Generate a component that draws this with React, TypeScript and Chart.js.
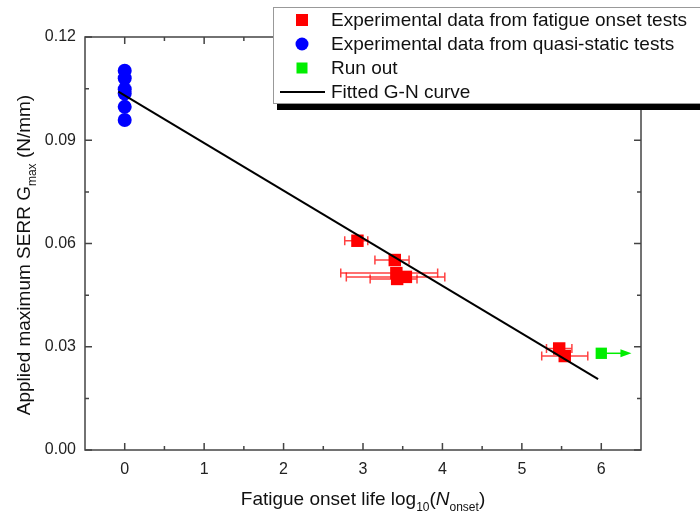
import React, { useEffect, useRef } from "react";
import { Chart, registerables } from "chart.js";

Chart.register(...registerables);

// ---- data ----
const quasiX = [0, 0, 0, 0, 0, 0];
const quasiY = [0.1102, 0.108, 0.1048, 0.1036, 0.0997, 0.0959];

const fatigueX = [2.93, 3.4, 3.42, 3.54, 3.43, 5.47, 5.54];
const fatigueY = [0.0608, 0.0552, 0.0514, 0.0503, 0.0497, 0.0295, 0.0273];
const fatigueXLow = [2.77, 3.15, 2.72, 2.79, 3.09, 5.31, 5.25];
const fatigueXHigh = [3.06, 3.58, 3.94, 4.03, 3.68, 5.63, 5.83];

const runOutX = [6.0];
const runOutY = [0.0281];
const runOutArrowTo = [6.38];

const fitX = [-0.08, 5.96];
const fitY = [0.1041, 0.0206];

const xTicks = [0, 1, 2, 3, 4, 5, 6];
const xMinorTicks = [0.5, 1.5, 2.5, 3.5, 4.5, 5.5];
const yTicks = [0, 0.03, 0.06, 0.09, 0.12];
const yMinorTicks = [0.015, 0.045, 0.075, 0.105];

const legendLabels = [
  "Experimental data from fatigue onset tests",
  "Experimental data from quasi-static tests",
  "Run out",
  "Fitted G-N curve",
];

const FONT = "'Liberation Sans', Arial, sans-serif";
const RED = "#ff0000";
const BLUE = "#0000ff";
const GREEN = "#00ee00";

type Part = { t: string; size: number; sub?: boolean; italic?: boolean };

function drawRich(ctx: CanvasRenderingContext2D, parts: Part[], cx: number, baseY: number, mainSize: number) {
  let total = 0;
  for (const p of parts) {
    ctx.font = `${p.italic ? "italic " : ""}${p.size}px ${FONT}`;
    total += ctx.measureText(p.t).width;
  }
  let x = cx - total / 2;
  ctx.textAlign = "left";
  ctx.textBaseline = "alphabetic";
  for (const p of parts) {
    ctx.font = `${p.italic ? "italic " : ""}${p.size}px ${FONT}`;
    ctx.fillText(p.t, x, baseY + (p.sub ? mainSize * 0.3 : 0));
    x += ctx.measureText(p.t).width;
  }
}

const decorPlugin = {
  id: "decor",
  beforeDatasetsDraw(chart: any) {
    const { ctx, scales } = chart;
    const xs = scales.x;
    const ys = scales.y;
    ctx.save();
    ctx.strokeStyle = "rgba(255,0,0,0.75)";
    ctx.lineWidth = 1.5;
    for (let i = 0; i < fatigueX.length; i++) {
      const y = ys.getPixelForValue(fatigueY[i]);
      const x1 = xs.getPixelForValue(fatigueXLow[i]);
      const x2 = xs.getPixelForValue(fatigueXHigh[i]);
      ctx.beginPath();
      ctx.moveTo(x1, y);
      ctx.lineTo(x2, y);
      ctx.moveTo(x1, y - 4.5);
      ctx.lineTo(x1, y + 4.5);
      ctx.moveTo(x2, y - 4.5);
      ctx.lineTo(x2, y + 4.5);
      ctx.stroke();
    }
    ctx.restore();
  },
  afterDatasetsDraw(chart: any) {
    const { ctx, scales } = chart;
    const xs = scales.x;
    const ys = scales.y;
    ctx.save();
    ctx.strokeStyle = GREEN;
    ctx.fillStyle = GREEN;
    ctx.lineWidth = 1.5;
    for (let i = 0; i < runOutX.length; i++) {
      const y = ys.getPixelForValue(runOutY[i]);
      const x1 = xs.getPixelForValue(runOutX[i]);
      const x2 = xs.getPixelForValue(runOutArrowTo[i]);
      ctx.beginPath();
      ctx.moveTo(x1, y);
      ctx.lineTo(x2 - 8, y);
      ctx.stroke();
      ctx.beginPath();
      ctx.moveTo(x2, y);
      ctx.lineTo(x2 - 11, y - 4);
      ctx.lineTo(x2 - 11, y + 4);
      ctx.closePath();
      ctx.fill();
    }
    ctx.restore();
  },
  afterDraw(chart: any) {
    const { ctx, scales, chartArea } = chart;
    const xs = scales.x;
    const ys = scales.y;
    const { left, right, top, bottom } = chartArea;
    ctx.save();
    // frame
    ctx.strokeStyle = "#444";
    ctx.lineWidth = 1.5;
    ctx.strokeRect(left, top, right - left, bottom - top);
    // ticks (inward)
    ctx.beginPath();
    const tick = (v: number, len: number) => {
      const x = xs.getPixelForValue(v);
      ctx.moveTo(x, bottom);
      ctx.lineTo(x, bottom - len);
      ctx.moveTo(x, top);
      ctx.lineTo(x, top + len);
    };
    xTicks.forEach((v) => tick(v, 7));
    xMinorTicks.forEach((v) => tick(v, 4));
    const ytick = (v: number, len: number) => {
      const y = ys.getPixelForValue(v);
      ctx.moveTo(left, y);
      ctx.lineTo(left + len, y);
      ctx.moveTo(right, y);
      ctx.lineTo(right - len, y);
    };
    yTicks.forEach((v) => ytick(v, 7));
    yMinorTicks.forEach((v) => ytick(v, 4));
    ctx.stroke();

    // axis titles
    ctx.fillStyle = "#111";
    drawRich(
      ctx,
      [
        { t: "Fatigue onset life log", size: 19 },
        { t: "10", size: 12, sub: true },
        { t: "(", size: 19 },
        { t: "N", size: 19, italic: true },
        { t: "onset", size: 12, sub: true },
        { t: ")", size: 19 },
      ],
      (left + right) / 2,
      505,
      19
    );
    ctx.save();
    ctx.translate(30, 255);
    ctx.rotate(-Math.PI / 2);
    drawRich(
      ctx,
      [
        { t: "Applied maximum SERR G", size: 19 },
        { t: "max", size: 12, sub: true },
        { t: " (N/mm)", size: 19 },
      ],
      0,
      0,
      19
    );
    ctx.restore();

    // legend
    const lx = 273;
    const ly = 7;
    const lw = 440;
    const lh = 96;
    ctx.fillStyle = "#000";
    ctx.fillRect(lx + 4, ly + lh + 1, lw, 6);
    ctx.fillStyle = "#fff";
    ctx.fillRect(lx, ly, lw, lh);
    ctx.strokeStyle = "#999";
    ctx.lineWidth = 1;
    ctx.strokeRect(lx + 0.5, ly + 0.5, lw, lh);
    const rows = [20, 44, 68, 92];
    const mx = 302;
    // markers
    ctx.fillStyle = RED;
    ctx.fillRect(mx - 6, rows[0] - 6, 12, 12);
    ctx.fillStyle = BLUE;
    ctx.beginPath();
    ctx.arc(mx, rows[1], 6.5, 0, Math.PI * 2);
    ctx.fill();
    ctx.fillStyle = GREEN;
    ctx.fillRect(mx - 5.5, rows[2] - 5.5, 11, 11);
    ctx.strokeStyle = "#000";
    ctx.lineWidth = 2;
    ctx.beginPath();
    ctx.moveTo(280, rows[3]);
    ctx.lineTo(325, rows[3]);
    ctx.stroke();
    ctx.fillStyle = "#111";
    ctx.font = `19px ${FONT}`;
    ctx.textAlign = "left";
    ctx.textBaseline = "middle";
    legendLabels.forEach((s, i) => ctx.fillText(s, 331, rows[i] + 1));
    ctx.restore();
  },
};

export default function App() {
  const ref = useRef<HTMLCanvasElement | null>(null);
  useEffect(() => {
    if (!ref.current) return;
    const chart = new Chart(ref.current, {
      type: "scatter",
      data: {
        datasets: [
          {
            type: "line",
            label: legendLabels[3],
            data: fitX.map((x, i) => ({ x, y: fitY[i] })),
            borderColor: "#000",
            borderWidth: 2,
            pointRadius: 0,
            showLine: true,
            fill: false,
          } as any,
          {
            label: legendLabels[0],
            data: fatigueX.map((x, i) => ({ x, y: fatigueY[i] })),
            pointStyle: "rect",
            pointRadius: 8.8,
            backgroundColor: RED,
            borderColor: RED,
            borderWidth: 0,
          },
          {
            label: legendLabels[1],
            data: quasiX.map((x, i) => ({ x, y: quasiY[i] })),
            pointStyle: "circle",
            pointRadius: 7,
            backgroundColor: BLUE,
            borderColor: BLUE,
            borderWidth: 0,
          },
          {
            label: legendLabels[2],
            data: runOutX.map((x, i) => ({ x, y: runOutY[i] })),
            pointStyle: "rect",
            pointRadius: 8,
            backgroundColor: GREEN,
            borderColor: GREEN,
            borderWidth: 0,
          },
        ],
      },
      options: {
        responsive: false,
        animation: false,
        layout: { padding: { top: 37, right: 59, left: 0, bottom: 0 } },
        plugins: { legend: { display: false }, tooltip: { enabled: false } },
        scales: {
          x: {
            type: "linear",
            min: -0.5,
            max: 6.5,
            grid: { display: false, drawTicks: false },
            border: { display: false },
            afterBuildTicks: (s: any) => {
              s.ticks = xTicks.map((v) => ({ value: v }));
            },
            afterFit: (s: any) => {
              s.height = 65;
            },
            ticks: {
              padding: 10,
              color: "#222",
              font: { family: FONT, size: 16 },
              callback: (v: any) => String(v),
            },
          },
          y: {
            type: "linear",
            min: 0,
            max: 0.12,
            grid: { display: false, drawTicks: false },
            border: { display: false },
            afterBuildTicks: (s: any) => {
              s.ticks = yTicks.map((v) => ({ value: v }));
            },
            afterFit: (s: any) => {
              s.width = 85;
            },
            ticks: {
              padding: 9,
              color: "#222",
              font: { family: FONT, size: 16 },
              callback: (v: any) => Number(v).toFixed(2),
            },
          },
        },
      },
      plugins: [decorPlugin],
    });
    return () => chart.destroy();
  }, []);
  return (
    <div style={{ position: "fixed", left: 0, top: 0, width: 700, height: 515, background: "#fff" }}>
      <canvas ref={ref} width={700} height={515} style={{ display: "block" }} />
    </div>
  );
}
